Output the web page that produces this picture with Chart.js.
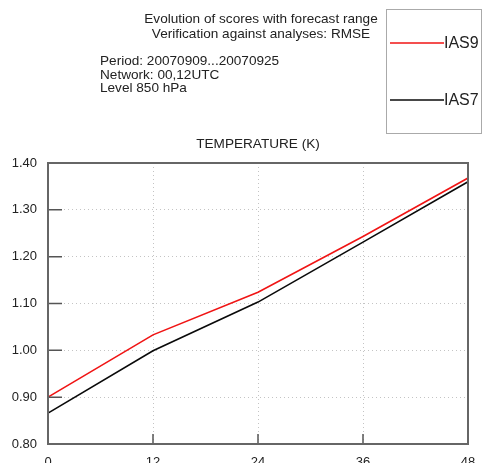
<!DOCTYPE html>
<html>
<head>
<meta charset="utf-8">
<script src="https://cdn.jsdelivr.net/npm/chart.js@4.4.0/dist/chart.umd.min.js"></script>
<style>
  body { margin: 0; background: #fff; }
  #wrap { width: 483px; height: 463px; }
</style>
</head>
<body>
<div id="wrap"><canvas id="scoreChart" width="483" height="463"></canvas></div>
<script>
    // forecast range (hours) and RMSE for each experiment
    var leadTimes = [0, 12, 24, 36, 48];
    var ias9 = [0.900, 1.033, 1.124, 1.243, 1.368];
    var ias7 = [0.866, 0.999, 1.103, 1.231, 1.360];
    var yTicks = [0.80, 0.90, 1.00, 1.10, 1.20, 1.30, 1.40];

    var titleLines = ['Evolution of scores with forecast range', 'Verification against analyses: RMSE'];
    var infoLines = ['Period: 20070909...20070925', 'Network: 00,12UTC', 'Level 850 hPa'];
    var panelTitle = 'TEMPERATURE (K)';
    var font = '"Liberation Sans", Arial, sans-serif';

    var ias9Color = 'rgb(240, 20, 20)';
    var ias7Color = 'rgb(10, 10, 10)';

    function pts(vals) {
        return leadTimes.map(function (x, i) { return {x: x, y: vals[i]}; });
    }

    // header text, legend box, frame and inward ticks
    var decorations = {
        id: 'decorations',
        afterDatasetsDraw: function (chart) {
            var ctx = chart.ctx, a = chart.chartArea;
            var xs = chart.scales.x, ys = chart.scales.y;
            ctx.save();

            ctx.fillStyle = '#222';
            ctx.font = '13.6px ' + font;
            ctx.textAlign = 'center';
            ctx.textBaseline = 'alphabetic';
            ctx.fillText(titleLines[0], 261, 23);
            ctx.fillText(titleLines[1], 261, 38);
            ctx.textAlign = 'left';
            infoLines.forEach(function (t, i) { ctx.fillText(t, 100, 65 + i * 13.5); });
            ctx.textAlign = 'center';
            ctx.fillText(panelTitle, (a.left + a.right) / 2, 148);

            // legend box
            ctx.strokeStyle = '#aaa';
            ctx.lineWidth = 1;
            ctx.strokeRect(386.5, 9.5, 95, 124);
            var items = [[ias9Color, 'IAS9', 43], [ias7Color, 'IAS7', 100]];
            ctx.font = '16px ' + font;
            ctx.textAlign = 'left';
            ctx.textBaseline = 'middle';
            items.forEach(function (it) {
                ctx.strokeStyle = it[0];
                ctx.lineWidth = 1.5;
                ctx.beginPath();
                ctx.moveTo(390, it[2]);
                ctx.lineTo(444, it[2]);
                ctx.stroke();
                ctx.fillStyle = '#222';
                ctx.fillText(it[1], 444, it[2] + 1);
            });

            // inward ticks
            ctx.strokeStyle = '#555';
            ctx.lineWidth = 1.5;
            ctx.beginPath();
            yTicks.forEach(function (v) {
                var py = ys.getPixelForValue(v);
                ctx.moveTo(a.left, py);
                ctx.lineTo(a.left + 14, py);
            });
            leadTimes.forEach(function (v) {
                var px = xs.getPixelForValue(v);
                ctx.moveTo(px, a.bottom);
                ctx.lineTo(px, a.bottom - 10);
            });
            ctx.stroke();

            // frame
            ctx.strokeStyle = '#666';
            ctx.lineWidth = 2;
            ctx.strokeRect(a.left, a.top, a.right - a.left, a.bottom - a.top);
            ctx.restore();
        }
    };

    var chart = new Chart(document.getElementById('scoreChart').getContext('2d'), {
        type: 'line',
        data: {
            datasets: [{
                label: 'IAS9',
                data: pts(ias9),
                borderColor: ias9Color,
                borderWidth: 1.6,
                pointRadius: 0,
                tension: 0
            },
            {
                label: 'IAS7',
                data: pts(ias7),
                borderColor: ias7Color,
                borderWidth: 1.6,
                pointRadius: 0,
                tension: 0
            }]
        },
        options: {
            responsive: false,
            animation: false,
            layout: {padding: {top: 163, right: 15, left: 0, bottom: 0}},
            plugins: {legend: {display: false}, tooltip: {enabled: false}},
            scales: {
                x: {
                    type: 'linear',
                    min: 0, max: 48,
                    border: {display: false, dash: [1, 3]},
                    grid: {color: '#c4c4c4', drawTicks: false},
                    ticks: {
                        stepSize: 12,
                        padding: 11,
                        color: '#222',
                        font: {family: font, size: 13}
                    },
                    afterFit: function (s) {
                        s.height = 19;
                        s.paddingLeft = 0;
                        s.paddingRight = 0;
                    }
                },
                y: {
                    min: 0.8, max: 1.4,
                    border: {display: false, dash: [1, 3]},
                    grid: {color: '#c4c4c4', drawTicks: false},
                    ticks: {
                        stepSize: 0.1,
                        padding: 11,
                        color: '#222',
                        font: {family: font, size: 13},
                        callback: function (v) { return v.toFixed(2); }
                    },
                    afterFit: function (s) {
                        s.width = 48;
                        s.paddingTop = 0;
                        s.paddingBottom = 0;
                    }
                }
            }
        },
        plugins: [decorations]
    });
</script>
</body>
</html>
